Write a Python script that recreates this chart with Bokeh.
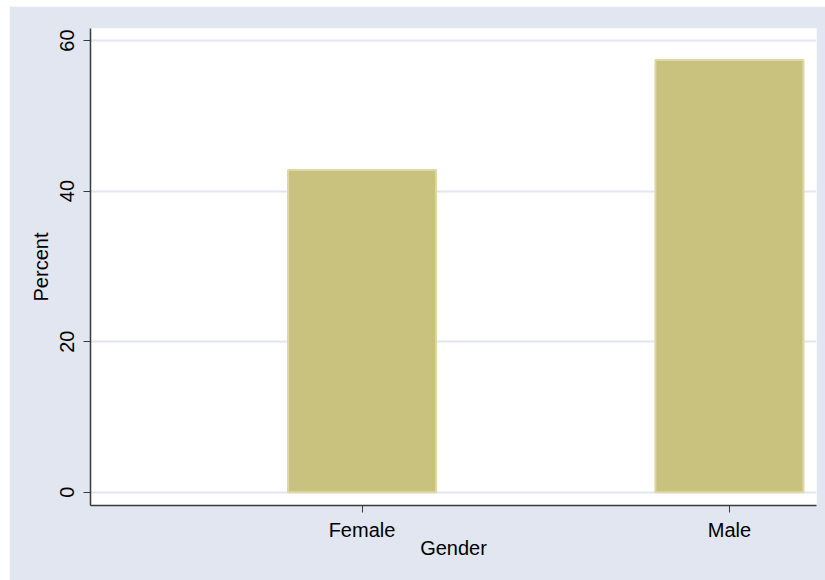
from bokeh.plotting import figure
from bokeh.models import Range1d, FixedTicker, ColumnDataSource, Spacer
from bokeh.layouts import column, row
from bokeh.embed import file_html
from bokeh.resources import INLINE

categories = ["Female", "Male"]
percent = [42.8, 57.4]
y_ticks = [0, 20, 40, 60]

xs = [i + 1 for i in range(len(categories))]
src = ColumnDataSource(dict(x=xs, top=percent, cat=categories))

BG = "#e1e6f0"
FONT = "Liberation Sans"

p = figure(width=816, height=574, output_backend="svg", toolbar_location=None,
           x_range=Range1d(0.261, 2.237), y_range=Range1d(-1.77, 61.6),
           min_border_left=81, min_border_top=22, min_border_right=9, min_border_bottom=75)
p.background_fill_color = "white"
p.border_fill_color = BG
p.outline_line_color = None

p.vbar(x="x", top="top", width=0.403, source=src,
       fill_color="#c9c27f", line_color="#ddd8a6", line_width=2)

p.xgrid.grid_line_color = None
p.ygrid.grid_line_color = BG
p.ygrid.grid_line_width = 2
p.ygrid.ticker = FixedTicker(ticks=y_ticks)
p.ygrid.level = "underlay"

p.xaxis.ticker = FixedTicker(ticks=xs)
p.xaxis.major_label_overrides = {x: c for x, c in zip(xs, categories)}
p.yaxis.ticker = FixedTicker(ticks=y_ticks)
p.yaxis.major_label_orientation = "vertical"

p.xaxis.axis_label = "Gender"
p.yaxis.axis_label = "Percent"

for ax in (p.xaxis[0], p.yaxis[0]):
    ax.axis_line_color = "#3a3a3a"
    ax.axis_line_width = 1.5
    ax.major_tick_line_color = "#3a3a3a"
    ax.major_tick_in = 0
    ax.major_tick_out = 7
    ax.minor_tick_line_color = None
    ax.major_label_text_font = FONT
    ax.major_label_text_font_size = "20px"
    ax.major_label_text_color = "black"
    ax.axis_label_text_font = FONT
    ax.axis_label_text_font_size = "20px"
    ax.axis_label_text_font_style = "normal"
    ax.axis_label_text_color = "black"

p.xaxis.major_label_standoff = 6
p.xaxis.axis_label_standoff = -7
p.yaxis.major_label_standoff = 9
p.yaxis.axis_label_standoff = 6

layout = column(Spacer(height=6), row(Spacer(width=9), p))

open("out.html", "w").write(file_html(layout, INLINE))
